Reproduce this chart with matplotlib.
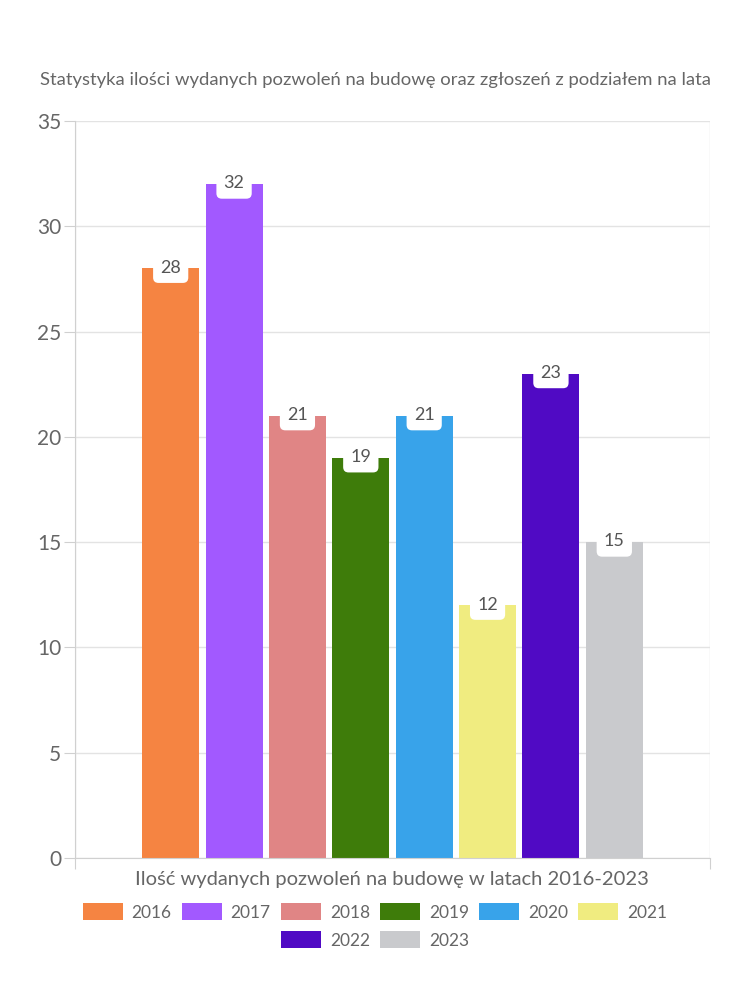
import matplotlib
matplotlib.use("Agg")
import matplotlib.pyplot as plt
from matplotlib.patches import Patch

years = ["2016", "2017", "2018", "2019", "2020", "2021", "2022", "2023"]
values = [28, 32, 21, 19, 21, 12, 23, 15]
colors = ["#F58442", "#A259FF", "#E08585", "#3E7C0A", "#38A3EA", "#F0EC80", "#500AC4", "#C9CACD"]
yticks = [0, 5, 10, 15, 20, 25, 30, 35]
title = "Statystyka ilości wydanych pozwoleń na budowę oraz zgłoszeń z podziałem na lata"
xlabel = "Ilość wydanych pozwoleń na budowę w latach 2016-2023"

plt.rcParams['font.family'] = ['Lato', 'DejaVu Sans']
txt = "#666666"
gridc = "#e3e3e3"

fig = plt.figure(figsize=(7.5, 10), dpi=100)
ax = fig.add_axes([75/750, 1 - 858/1000, 635/750, (858-121)/1000])

pos = list(range(len(years)))
ax.bar(pos, values, width=0.9, color=colors, zorder=2)
for p, v in zip(pos, values):
    ax.annotate(str(v), (p, v), xytext=(0, 0.5), textcoords="offset points",
                ha="center", va="center", fontsize=13, color="#555555", zorder=4,
                bbox=dict(boxstyle="round,pad=0.4,rounding_size=0.3", fc="white", ec="none"))

ax.set_xlim(-1.51, 8.51)
ax.set_ylim(0, 35)
ax.set_yticks(yticks)
ax.set_xticks([-1.51, 8.51])
ax.set_xticklabels([])
ax.grid(True, color=gridc, linewidth=1, zorder=0)
for s in ax.spines.values():
    s.set_visible(False)
ax.spines['left'].set_visible(True)
ax.spines['left'].set_color("#d0d0d0")
ax.spines['bottom'].set_visible(True)
ax.spines['bottom'].set_color("#d0d0d0")
ax.tick_params(axis='both', length=8, color="#d0d0d0", labelcolor=txt, labelsize=15)
ax.tick_params(axis='y', pad=2)

fig.text(375/750, 1 - 80/1000, title, ha="center", va="center", fontsize=13.3, color=txt)
fig.text(392/750, 1 - 880/1000, xlabel, ha="center", va="center", fontsize=14.5, color=txt)

handles = [Patch(facecolor=c, edgecolor="none") for c in colors]
leg_kw = dict(frameon=False, fontsize=12.5, handlelength=2.3, handleheight=1.1,
              handletextpad=0.5, columnspacing=0.6, labelcolor=txt, loc="center")
fig.legend(handles[:6], years[:6], ncol=6, bbox_to_anchor=(375/750, 1 - 912/1000), **leg_kw)
fig.legend(handles[6:], years[6:], ncol=2, bbox_to_anchor=(375/750, 1 - 940/1000), **leg_kw)

fig.savefig("out.png", dpi=100)
